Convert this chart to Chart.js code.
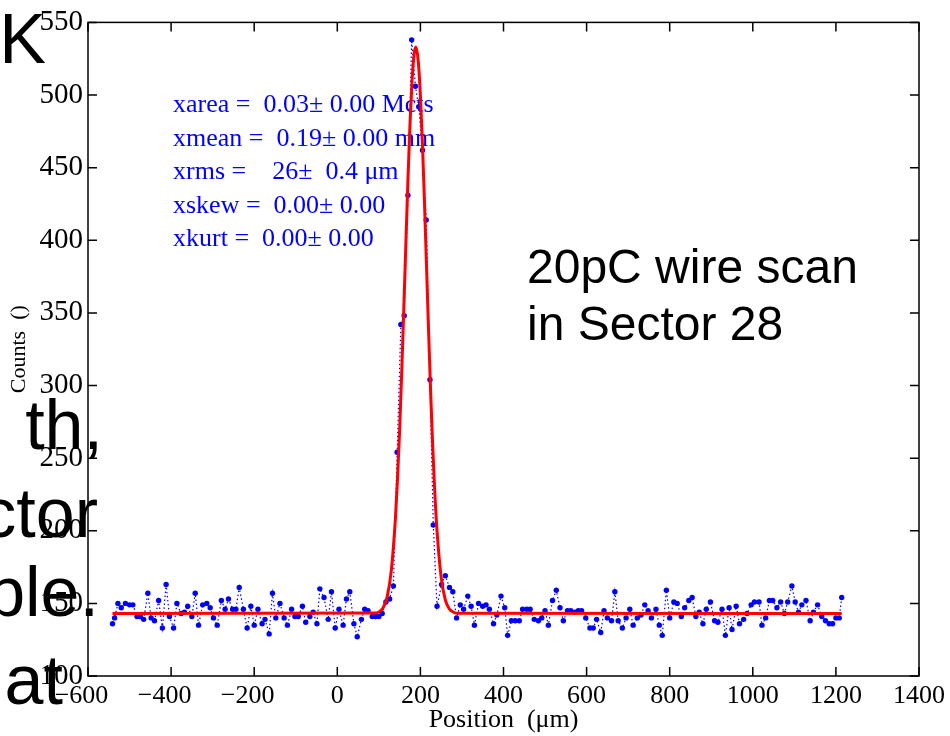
<!DOCTYPE html>
<html lang="en">
<head>
    <meta charset="UTF-8">
    <title>Wire scan</title>
    <style>
        body {
            margin: 0;
            padding: 0;
            background: #ffffff;
        }
        #scan {
            display: block;
        }
    </style>
</head>
<body>

<canvas id="scan" width="950" height="736"></canvas>

<script src="https://cdn.jsdelivr.net/npm/chart.js"></script>
<script>
    // wire position (um) and counts
    const positions = [
        -541, -536, -528, -520, -510, -500, -492, -482, -474, -466,
        -456, -448, -440, -430, -421, -412, -404, -394, -386, -376,
        -368, -360, -350, -342, -334, -324, -314, -306, -298, -289,
        -279, -270, -262, -252, -244, -236, -226, -217, -208, -200,
        -191, -181, -174, -164, -156, -148, -138, -128, -120, -110,
        -102, -94, -84, -76, -66, -58, -49, -42, -32, -22,
        -14, -5, 4, 14, 22, 30, 40, 48, 58, 66,
        74, 84, 92, 100,
        108, 117, 126, 135, 144, 153, 161, 170, 179, 188, 196, 205, 214, 223, 231, 240,
        251, 260, 270, 278, 287, 296, 304, 314, 322, 330,
        340, 350, 358, 366, 376, 384, 394, 403, 410, 419,
        428, 438, 446, 456, 464, 474, 484, 492, 500, 508,
        518, 527, 536, 544, 554, 562, 572,
        580, 588, 598, 608, 616, 624, 634, 642, 650, 660,
        668, 676, 686, 695, 704, 712, 722, 731, 740, 748,
        756, 767, 775, 782, 792, 800, 810, 818, 828, 836,
        846, 854, 863, 871, 880, 888, 898, 908, 916, 926,
        934, 943, 950, 960, 968, 978, 986, 996, 1004, 1015,
        1022, 1031, 1040, 1048, 1058, 1067, 1076, 1084, 1094, 1102,
        1110, 1118, 1128, 1138, 1146, 1156, 1166, 1175, 1184, 1192,
        1200, 1208, 1214
    ];
    const counts = [
        136, 140, 150, 147, 150, 149, 149, 141, 141, 139,
        157, 140, 138, 152, 133, 163, 141, 133, 150, 143,
        144, 148, 141, 157, 135, 149, 150, 147, 140, 135,
        152, 146, 153, 146, 146, 161, 146, 133, 148, 135,
        146, 136, 139, 129, 157, 140, 150, 140, 135, 146,
        141, 141, 148, 137, 141, 144, 136, 160, 154, 139,
        158, 133, 146, 135, 153, 158, 136, 127, 139, 146,
        145, 141, 141, 141,
        143, 151, 153, 162, 254, 342, 348, 431, 538, 506, 492, 462, 414, 304, 204, 148,
        163, 169, 161, 158, 140, 149, 146, 155, 148, 135,
        150, 148, 149, 146, 136, 142, 155, 147, 128, 138,
        138, 138, 146, 146, 146, 139, 138, 140, 145, 135,
        152, 159, 147, 138, 145, 145, 144,
        145, 145, 140, 133, 133, 139, 130, 145, 140, 138,
        158, 138, 133, 140, 146, 135, 140, 142, 149, 145,
        140, 146, 135, 128, 159, 140, 151, 150, 141, 147,
        152, 154, 141, 144, 136, 146, 151, 138, 137, 146,
        128, 147, 132, 148, 136, 139, 143, 149, 151, 151,
        135, 140, 152, 152, 147, 151, 143, 151, 162, 151,
        144, 149, 152, 138, 144, 149, 141, 138, 136, 136,
        140, 140, 154
    ];

    // gaussian fit curve
    const fitPositions = [-541, 90, 100, 110, 120, 130, 140, 145, 150, 155, 160, 165, 170, 175, 180, 185,
        189, 195, 200, 205, 210, 215, 220, 225, 230, 235, 240, 250, 260, 270, 280, 290, 1214];
    const fitCounts = [143, 143.3, 144.1, 146.9, 154.5, 172.7, 209.0, 236.2, 269.6, 308.9, 352.4, 397.7, 441.6, 480.3, 510.3, 528.4,
        533, 522.7, 499.6, 465.7, 424.5, 379.5, 334.6, 292.5, 255.5, 224.5, 199.9, 167.9, 152.4, 146.0, 143.9, 143.2, 143];

    const xTicks = [-600, -400, -200, 0, 200, 400, 600, 800, 1000, 1200, 1400];
    const yTicks = [100, 150, 200, 250, 300, 350, 400, 450, 500, 550];

    const statLines = [
        'xarea =  0.03\u00b1 0.00 Mcts',
        'xmean =  0.19\u00b1 0.00 mm',
        'xrms =    26\u00b1  0.4 \u03bcm',
        'xskew =  0.00\u00b1 0.00',
        'xkurt =  0.00\u00b1 0.00'
    ];
    const captionLines = ['20pC wire scan', 'in Sector 28'];
    // slide text peeking in from the left edge
    const slideBits = ['K', 'th,', 'ctor', 'ble.', 'at'];

    const serif = '"Liberation Serif", "Times New Roman", serif';
    const sans = '"Liberation Sans", Arial, sans-serif';

    const points = positions.map((p, i) => ({x: p, y: counts[i]}));
    const fitPoints = fitPositions.map((p, i) => ({x: p, y: fitCounts[i]}));

    // frame with inward ticks on all four sides
    const frameTicks = {
        id: 'frameTicks',
        afterDatasetsDraw(chart) {
            const {ctx, chartArea: a, scales: {x, y}} = chart;
            ctx.save();
            ctx.strokeStyle = '#000';
            ctx.lineWidth = 1.5;
            ctx.strokeRect(a.left, a.top, a.right - a.left, a.bottom - a.top);
            ctx.beginPath();
            xTicks.forEach(v => {
                const px = x.getPixelForValue(v);
                ctx.moveTo(px, a.bottom);
                ctx.lineTo(px, a.bottom - 9);
                ctx.moveTo(px, a.top);
                ctx.lineTo(px, a.top + 9);
            });
            yTicks.forEach(v => {
                const py = y.getPixelForValue(v);
                ctx.moveTo(a.left, py);
                ctx.lineTo(a.left + 9, py);
                ctx.moveTo(a.right, py);
                ctx.lineTo(a.right - 9, py);
            });
            ctx.stroke();
            ctx.restore();
        }
    };

    const textLayer = {
        id: 'textLayer',
        beforeDatasetsDraw(chart) {
            const ctx = chart.ctx;
            ctx.save();
            ctx.fillStyle = '#0000ff';
            ctx.font = '26px ' + serif;
            ctx.textBaseline = 'alphabetic';
            statLines.forEach((line, i) => ctx.fillText(line, 173, 112 + i * 33.6));
            ctx.restore();
        },
        afterDraw(chart) {
            const ctx = chart.ctx;
            ctx.save();
            ctx.fillStyle = '#000';
            ctx.font = '48px ' + sans;
            ctx.textBaseline = 'alphabetic';
            captionLines.forEach((line, i) => ctx.fillText(line, 527, 283 + i * 57));

            ctx.font = '70px ' + sans;
            ctx.textAlign = 'right';
            const ends = [46, 103, 98, 99, 63];
            const bases = [63, 449, 537, 616, 704];
            slideBits.forEach((t, i) => ctx.fillText(t, ends[i], bases[i]));
            ctx.restore();
        }
    };

    new Chart(document.getElementById('scan'), {
        type: 'scatter',
        data: {
            datasets: [{
                label: 'fit',
                data: fitPoints,
                showLine: true,
                borderColor: '#ff0000',
                borderWidth: 3,
                pointRadius: 0,
                cubicInterpolationMode: 'monotone'
            }, {
                label: 'counts',
                data: points,
                showLine: true,
                borderColor: '#0000ff',
                borderWidth: 1.2,
                borderDash: [1.5, 2.5],
                pointRadius: 2.7,
                pointBorderWidth: 0,
                pointBackgroundColor: '#0000ff'
            }]
        },
        options: {
            responsive: false,
            animation: false,
            devicePixelRatio: 1,
            layout: {padding: {top: 19, right: 29, left: 0, bottom: 0}},
            plugins: {legend: {display: false}, tooltip: {enabled: false}},
            scales: {
                x: {
                    type: 'linear',
                    min: -600,
                    max: 1400,
                    afterBuildTicks: s => { s.ticks = xTicks.map(v => ({value: v})); },
                    afterFit: s => { s.height = 60; },
                    grid: {display: false, drawTicks: false},
                    border: {display: false},
                    ticks: {
                        color: '#000',
                        padding: 5,
                        maxRotation: 0,
                        font: {family: serif, size: 26},
                        // digits sit centred on the tick, the minus hangs to the left
                        callback: v => v < 0 ? '\u2212' + Math.abs(v) + '\u2002' : String(v)
                    },
                    title: {
                        display: true,
                        text: 'Position  (\u03bcm)',
                        color: '#000',
                        padding: 0,
                        font: {family: serif, size: 26}
                    }
                },
                y: {
                    min: 100,
                    max: 550,
                    afterBuildTicks: s => { s.ticks = yTicks.map(v => ({value: v})); },
                    afterFit: s => { s.width = 88; },
                    grid: {display: false, drawTicks: false},
                    border: {display: false},
                    ticks: {
                        color: '#000',
                        padding: 5,
                        font: {family: serif, size: 29}
                    },
                    title: {
                        display: true,
                        text: 'Counts  ()',
                        color: '#000',
                        padding: {top: 6, bottom: 0},
                        font: {family: serif, size: 22}
                    }
                }
            }
        },
        plugins: [frameTicks, textLayer]
    });
</script>

</body>
</html>
